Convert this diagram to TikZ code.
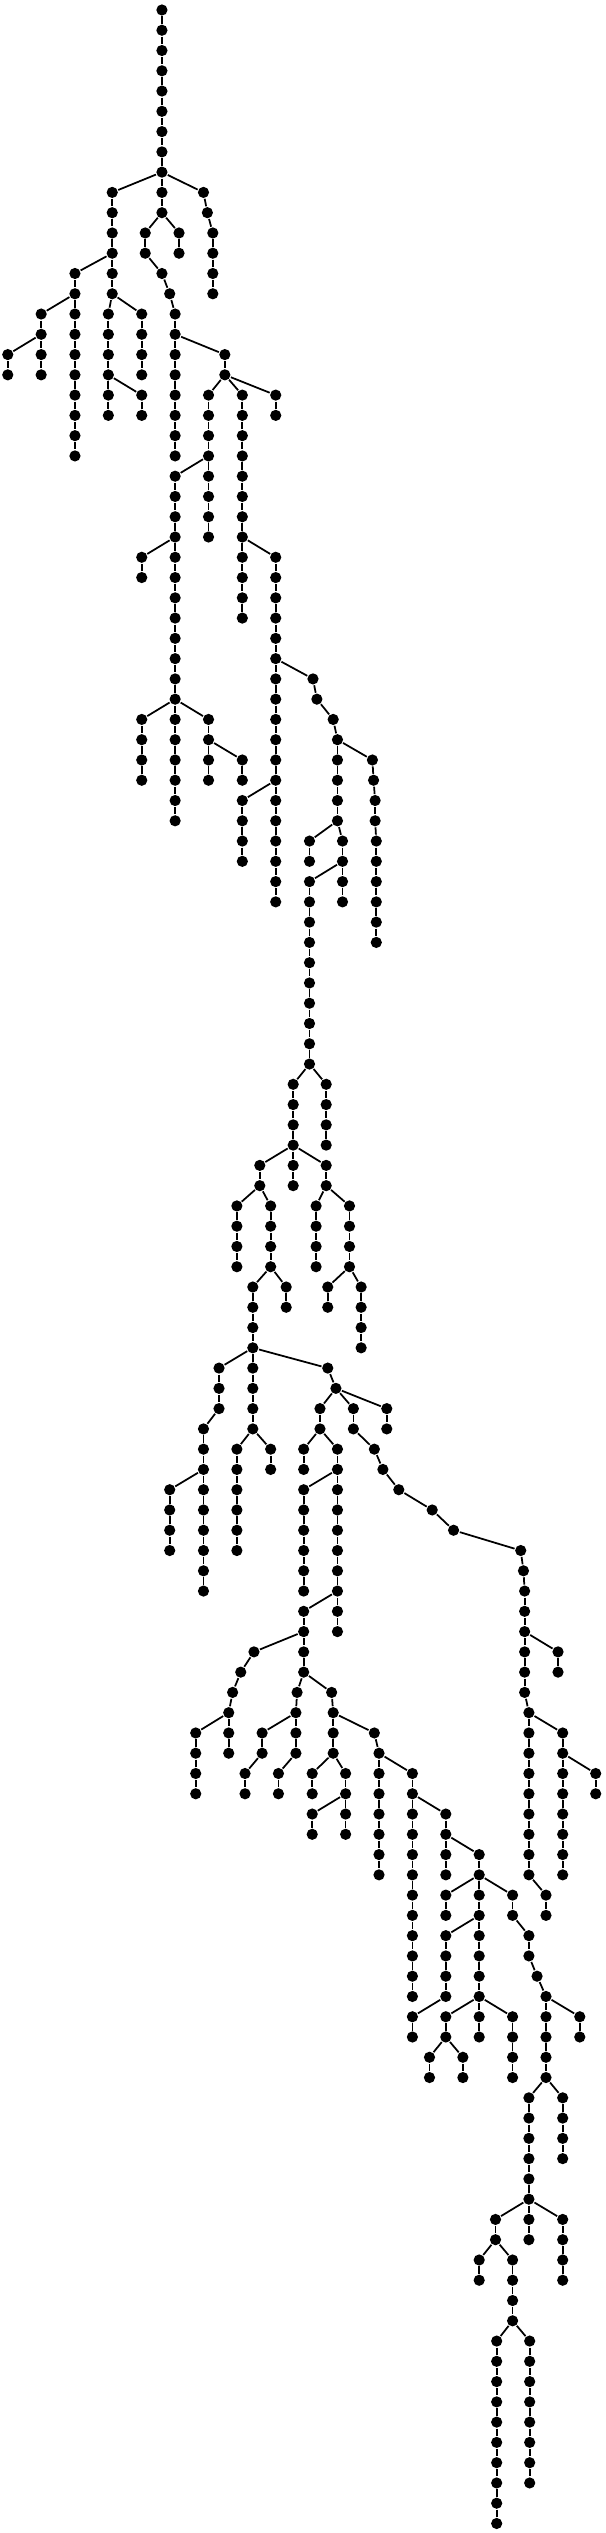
\documentclass[tikz,border=0pt]{standalone}
\usepackage{tikz}
\usepackage{xcolor}

% one branch of the tree: parent, name, first level, x of each node
\newcommand{\strand}[4]{%
  \foreach \xx [count=\k from 0] in {#4}{%
    \pgfmathtruncatemacro{\lev}{#3+\k}%
    \pgfmathtruncatemacro{\prev}{\k-1}%
    \node [V] (#2-\k) at (\xx,\lev) {};
    \ifnum\k=0 \draw (#1) -- (#2-0);\else \draw (#2-\prev) -- (#2-\k);\fi
  }%
}

\begin{document}
\begin{tikzpicture}[x=0.038835mm, y=-2.027mm, line width=0.5pt]
    \tikzstyle{V}=[circle,fill=black,inner sep=0pt,minimum size=1.12mm]

   \useasboundingbox (6,-0.4933) rectangle (1566.5,124.47);

   \node [V] (r) at (423,0) {};
   \strand{r}{a}{1}{423,423,423,423,423,423,423,423}
   \strand{a-7}{b}{9}{295,295,295,295,295,295}
   \strand{b-3}{c}{13}{199,199,199,199,199,199,199,199,199,199}
   \strand{c-1}{d}{15}{112,112,112,112}
   \strand{d-1}{e}{17}{26,26}
   \strand{b-5}{f}{15}{285,285,285,285,285,285}
   \strand{b-5}{g}{15}{371,371,371,371}
   \strand{f-3}{h}{19}{371,371}
   \strand{a-7}{i}{9}{423,423}
   \strand{i-1}{j}{11}{380,380,423,443,457,457,457,457,457,457,457,457}
   \strand{i-1}{k}{11}{467,467}
   \strand{a-7}{l}{9}{530,540,554,554,554,554}
   \strand{j-5}{m}{17}{585,585}
   \strand{m-1}{n}{19}{543,543,543,543,543,543,543,543}
   \strand{m-1}{o}{19}{630,630,630,630,630,630,630,630,630,630,630,630}
   \strand{m-1}{p}{19}{716,716}
   \strand{n-3}{q}{23}{457,457,457,457,457,457,457,457,457,457,457,457,457,457,457,457,457,457}
   \strand{q-3}{s}{27}{371,371}
   \strand{q-11}{t}{35}{371,371,371,371}
   \strand{q-11}{u}{35}{543,543,543,543}
   \strand{u-1}{v}{37}{630,630}
   \strand{o-7}{w}{27}{716,716,716,716,716,716,716,716,716,716,716,716,716,716,716,716,716,716}
   \strand{w-5}{x}{33}{812,822,864,875,875,875,875,875}
   \strand{w-11}{y}{39}{630,630,630,630}
   \strand{x-3}{z}{37}{965,968,972,972,975,975,975,975,975,975}
   \strand{x-7}{aa}{41}{803,803}
   \strand{x-7}{ab}{41}{888,888,888,888}
   \strand{ab-1}{ac}{43}{803,803,803,803,803,803,803,803,803,803}
   \strand{ac-9}{ad}{53}{761,761,761,761,761,761}
   \strand{ac-9}{ae}{53}{846,846,846,846}
   \strand{ad-3}{af}{57}{675,675}
   \strand{ad-3}{ag}{57}{846,846}
   \strand{af-1}{ah}{59}{616,616,616,616}
   \strand{af-1}{ai}{59}{703,703,703,703}
   \strand{ag-1}{aj}{59}{820,820,820,820}
   \strand{ag-1}{ak}{59}{906,906,906,906}
   \strand{ai-3}{al}{63}{657,657,657,657}
   \strand{ai-3}{am}{63}{743,743}
   \strand{ak-3}{an}{63}{850,850}
   \strand{ak-3}{ao}{63}{936,936,936,936}
   \strand{al-3}{ap}{67}{570,570,570,530,530,530,530,530,530,530,530,530}
   \strand{ap-5}{aq}{73}{443,443,443,443}
   \strand{al-3}{ar}{67}{657,657,657,657}
   \strand{ar-3}{as}{71}{616,616,616,616,616,616}
   \strand{ar-3}{at}{71}{703,703}
   \strand{al-3}{au}{67}{850,871}
   \strand{au-1}{av}{69}{830,830}
   \strand{au-1}{aw}{69}{916,916,970,992,1033,1119,1174,1347,1354,1357,1357,1357,1357,1357,1357,1368,1368,1368,1368,1368,1368,1368,1368,1368,1412,1412}
   \strand{au-1}{ax}{69}{1002,1002}
   \strand{av-1}{ay}{71}{788,788}
   \strand{av-1}{az}{71}{875,875}
   \strand{az-1}{ba}{73}{788,788,788,788,788,788}
   \strand{az-1}{bb}{73}{875,875,875,875,875,875,875,875}
   \strand{bb-5}{bc}{79}{788,788,788,788}
   \strand{bc-1}{bd}{81}{660,626,605,595,595,595}
   \strand{bd-3}{be}{85}{510,510,510,510}
   \strand{bc-3}{bf}{83}{771,768,768,768,723,723}
   \strand{bf-1}{bg}{85}{681,681,637,637}
   \strand{bc-3}{bh}{83}{860,864,864,864}
   \strand{bh-3}{bi}{87}{810,810}
   \strand{bh-3}{bj}{87}{896,896}
   \strand{bj-1}{bk}{89}{810,810}
   \strand{bj-1}{bl}{89}{896,896}
   \strand{bh-1}{bm}{85}{970,982,982,982,982,982,982,982}
   \strand{bm-1}{bn}{87}{1068,1068,1068,1068,1068,1068,1068,1068,1068,1068,1068,1068}
   \strand{bn-1}{bo}{89}{1154,1154,1154,1154}
   \strand{bo-1}{bp}{91}{1240,1240}
   \strand{bp-1}{bq}{93}{1154,1154}
   \strand{bp-1}{br}{93}{1240,1240,1240,1240,1240,1240,1240,1240}
   \strand{bp-1}{bs}{93}{1326,1326,1368,1368,1389,1412,1412,1412,1412,1412,1368,1368,1368,1368,1368,1368,1368,1368}
   \strand{br-1}{bt}{95}{1154,1154,1154,1154}
   \strand{bt-3}{bu}{99}{1068,1068}
   \strand{br-5}{bv}{99}{1154,1154}
   \strand{br-5}{bw}{99}{1326,1326,1326,1326}
   \strand{bv-1}{bx}{101}{1112,1112}
   \strand{bv-1}{by}{101}{1198,1198}
   \strand{bs-5}{bz}{99}{1499,1499}
   \strand{bs-9}{ca}{103}{1455,1455,1455,1455}
   \strand{bs-15}{cb}{109}{1282,1282}
   \strand{bs-15}{cc}{109}{1455,1455,1455,1455}
   \strand{cb-1}{cd}{111}{1240,1240}
   \strand{cb-1}{ce}{111}{1326,1326,1326,1326}
   \strand{ce-3}{cf}{115}{1285,1285,1285,1285,1285,1285,1285,1285,1285,1285}
   \strand{ce-3}{cg}{115}{1370,1370,1370,1370,1370,1370,1370,1370}
   \strand{aw-11}{ch}{81}{1443,1443}
   \strand{aw-15}{ci}{85}{1455,1455,1455,1455,1455,1455,1455,1455}
   \strand{ci-1}{cj}{87}{1540,1540}
\end{tikzpicture}
\end{document}
